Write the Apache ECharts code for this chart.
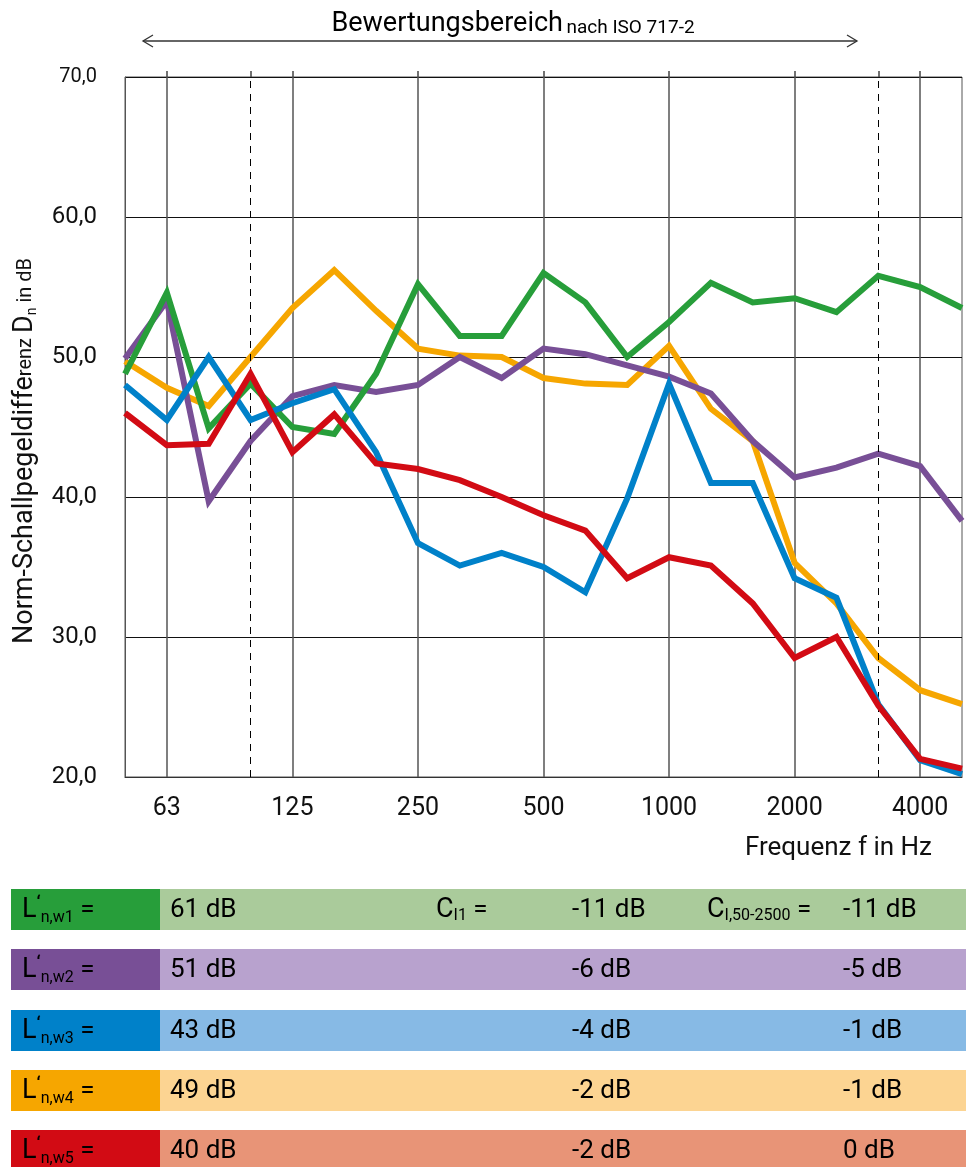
<!DOCTYPE html>
<html>
<head>
<meta charset="utf-8">
<script src="https://cdn.jsdelivr.net/npm/echarts@6/dist/echarts.min.js"></script>
<style>
html,body{margin:0;padding:0;background:#fff;}
#c{width:966px;height:1167px;}
</style>
</head>
<body>
<div id="c"></div>
<script>
// ---------- data ----------
const frequencies = ['50','63','80','100','125','160','200','250','315','400','500','630','800','1000','1250','1600','2000','2500','3150','4000','5000'];
const octaveLabels = ['63','125','250','500','1000','2000','4000'];
const dashedBands = ['100','3150'];
const yMin = 20, yMax = 70, yStep = 10;

const dnW1 = [48.8, 54.6, 44.9, 48.1, 45.0, 44.5, 48.8, 55.2, 51.5, 51.5, 56.0, 53.9, 50.0, 52.5, 55.3, 53.9, 54.2, 53.2, 55.8, 55.0, 53.5];
const dnW2 = [49.9, 54.0, 39.7, 44.0, 47.2, 48.0, 47.5, 48.0, 50.0, 48.5, 50.6, 50.2, 49.4, 48.6, 47.4, 44.0, 41.4, 42.1, 43.1, 42.2, 38.3];
const dnW3 = [48.0, 45.5, 50.0, 45.5, 46.7, 47.7, 43.2, 36.7, 35.1, 36.0, 35.0, 33.2, 39.9, 48.1, 41.0, 41.0, 34.2, 32.8, 25.2, 21.2, 20.2];
const dnW4 = [49.7, 47.8, 46.5, 50.0, 53.5, 56.2, 53.3, 50.6, 50.1, 50.0, 48.5, 48.1, 48.0, 50.8, 46.3, 44.0, 35.3, 32.4, 28.5, 26.2, 25.2];
const dnW5 = [46.0, 43.7, 43.8, 48.8, 43.2, 45.9, 42.4, 42.0, 41.2, 40.0, 38.7, 37.6, 34.2, 35.7, 35.1, 32.4, 28.5, 30.0, 25.1, 21.3, 20.6];

const rowSubs = ['n,w1','n,w2','n,w3','n,w4','n,w5'];
const lnwValues = ['61 dB','51 dB','43 dB','49 dB','40 dB'];
const ciValues = ['-11 dB','-6 dB','-4 dB','-2 dB','-2 dB'];
const ci50Values = ['-11 dB','-5 dB','-1 dB','-1 dB','0 dB'];

const darkColors = ['#279E3A','#784F96','#0081C9','#F6A600','#D20B14'];
const lightColors = ['#AACB9B','#B8A2CE','#87BAE5','#FCD492','#E89477'];

// ---------- chart ----------
const FONT = 'Roboto, "Noto Sans", sans-serif';
const chart = echarts.init(document.getElementById('c'), null, {renderer:'canvas'});

function lineSeries(name, data, color, z) {
  return {
    name: name, type: 'line', data: data, symbol: 'none', z: z,
    lineStyle: { color: color, width: 6, join: 'miter', miterLimit: 10 },
    emphasis: { disabled: true }, silent: true, animation: false
  };
}

const seriesList = [
  lineSeries('w4', dnW4, darkColors[3], 3),
  lineSeries('w2', dnW2, darkColors[1], 4),
  lineSeries('w1', dnW1, darkColors[0], 5),
  lineSeries('w3', dnW3, darkColors[2], 6),
  lineSeries('w5', dnW5, darkColors[4], 7)
];
seriesList[0].markLine = {
  symbol: 'none', silent: true, animation: false,
  label: { show: false },
  lineStyle: { color: '#000', width: 1, type: [7, 6] },
  data: dashedBands.map(b => ({ xAxis: b }))
};

// table graphics
const graphics = [];
const rowTops = [889, 949, 1010, 1070, 1130];
const rowH = 41;
const txtRich = {
  L: { fontSize: 27, fontFamily: FONT, color: '#111' },
  q: { fontSize: 18, fontFamily: FONT, color: '#111', verticalAlign: 'top', lineHeight: 30, fontWeight: 'bold' },
  sub: { fontSize: 16, fontFamily: FONT, color: '#111', verticalAlign: 'bottom', lineHeight: 24 },
  t: { fontSize: 26, fontFamily: FONT, color: '#111' }
};
for (let i = 0; i < 5; i++) {
  const y = rowTops[i];
  graphics.push({ type: 'rect', shape: { x: 11, y: y, width: 149, height: rowH }, style: { fill: darkColors[i] }, silent: true });
  graphics.push({ type: 'rect', shape: { x: 160, y: y, width: 806, height: rowH }, style: { fill: lightColors[i] }, silent: true });
  const cy = y + rowH / 2 + 1;
  graphics.push({ type: 'text', x: 22, y: cy, silent: true,
    style: { text: '{L|L}{q|‘}{sub|' + rowSubs[i] + '}{t| =}', rich: txtRich, verticalAlign: 'middle', align: 'left' } });
  graphics.push({ type: 'text', x: 170, y: cy, silent: true,
    style: { text: '{t|' + lnwValues[i] + '}', rich: txtRich, verticalAlign: 'middle', align: 'left' } });
  graphics.push({ type: 'text', x: 572, y: cy, silent: true,
    style: { text: '{t|' + ciValues[i] + '}', rich: txtRich, verticalAlign: 'middle', align: 'left' } });
  graphics.push({ type: 'text', x: 843, y: cy, silent: true,
    style: { text: '{t|' + ci50Values[i] + '}', rich: txtRich, verticalAlign: 'middle', align: 'left' } });
  if (i === 0) {
    graphics.push({ type: 'text', x: 436, y: cy, silent: true,
      style: { text: '{L|C}{sub|I1}{t| =}', rich: txtRich, verticalAlign: 'middle', align: 'left' } });
    graphics.push({ type: 'text', x: 707, y: cy, silent: true,
      style: { text: '{L|C}{sub|I,50-2500}{t| =}', rich: txtRich, verticalAlign: 'middle', align: 'left' } });
  }
}
// range arrow + heading
graphics.push({ type: 'line', shape: { x1: 143, y1: 41, x2: 857, y2: 41 }, style: { stroke: '#333', lineWidth: 1.3 }, silent: true });
graphics.push({ type: 'polyline', shape: { points: [[153, 35], [143, 41], [153, 47]] }, style: { stroke: '#333', lineWidth: 1.3, fill: null }, silent: true });
graphics.push({ type: 'polyline', shape: { points: [[847, 35], [857, 41], [847, 47]] }, style: { stroke: '#333', lineWidth: 1.3, fill: null }, silent: true });
graphics.push({ type: 'text', x: 513, y: 24, silent: true,
  style: { text: '{a|Bewertungsbereich}{g| }{b|nach ISO 717-2}', align: 'center', verticalAlign: 'middle',
    rich: {
      a: { fontSize: 27, fontFamily: FONT, color: '#111' },
      g: { fontSize: 14, fontFamily: FONT, color: '#111' },
      b: { fontSize: 19, fontFamily: FONT, color: '#111', verticalAlign: 'bottom', lineHeight: 27 } } } });
graphics.push({ type: 'text', x: 932, y: 848, silent: true,
  style: { text: 'Frequenz f in Hz', fontSize: 26, fontFamily: FONT, fill: '#111', align: 'right', verticalAlign: 'middle' } });

const option = {
  animation: false,
  backgroundColor: '#fff',
  textStyle: { fontFamily: FONT },
  grid: { left: 125, right: 4, top: 77, bottom: 390, show: true, borderColor: '#555', borderWidth: 1, containLabel: false },
  xAxis: [{
    type: 'category', data: frequencies, boundaryGap: false, position: 'bottom',
    axisLine: { show: true, lineStyle: { color: '#333', width: 1 } },
    axisTick: { show: false },
    axisLabel: { interval: (i, v) => octaveLabels.includes(v), fontSize: 25, color: '#111', margin: 19, fontFamily: FONT },
    splitLine: { show: true, interval: (i, v) => octaveLabels.includes(v), lineStyle: { color: '#555', width: 1.5 } }
  }, {
    type: 'category', data: frequencies, boundaryGap: false, position: 'top',
    axisLine: { show: false },
    axisTick: { show: true, inside: false, length: 6, interval: (i, v) => octaveLabels.includes(v) || dashedBands.includes(v), lineStyle: { color: '#444', width: 1.5 } },
    axisLabel: { show: false },
    splitLine: { show: false }
  }],
  yAxis: {
    type: 'value', min: yMin, max: yMax, interval: yStep,
    axisLine: { show: true, lineStyle: { color: '#555' } },
    axisTick: { show: false },
    axisLabel: {
      margin: 28, color: '#111', fontSize: 24, fontFamily: FONT,
      formatter: v => (v === yMax ? '{s|' + v.toFixed(1).replace('.', ',') + '}' : v.toFixed(1).replace('.', ',')),
      rich: { s: { fontSize: 20, fontFamily: FONT, color: '#111' } }
    },
    splitLine: { show: true, lineStyle: { color: '#111', width: 1 } },
    name: '{b|Norm-Schallpegeldiffe}{s|renz }{b|D}{sub|n}{s| in dB}',
    nameLocation: 'middle', nameRotate: 90, nameGap: 86,
    nameTextStyle: {
      padding: [0, 48, 0, 0],
      rich: {
        b: { fontSize: 27, fontFamily: FONT, color: '#111' },
        s: { fontSize: 20, fontFamily: FONT, color: '#111' },
        sub: { fontSize: 14, fontFamily: FONT, color: '#111', verticalAlign: 'bottom', lineHeight: 24 }
      }
    }
  },
  series: seriesList,
  graphic: graphics
};
chart.setOption(option);
</script>
</body>
</html>
